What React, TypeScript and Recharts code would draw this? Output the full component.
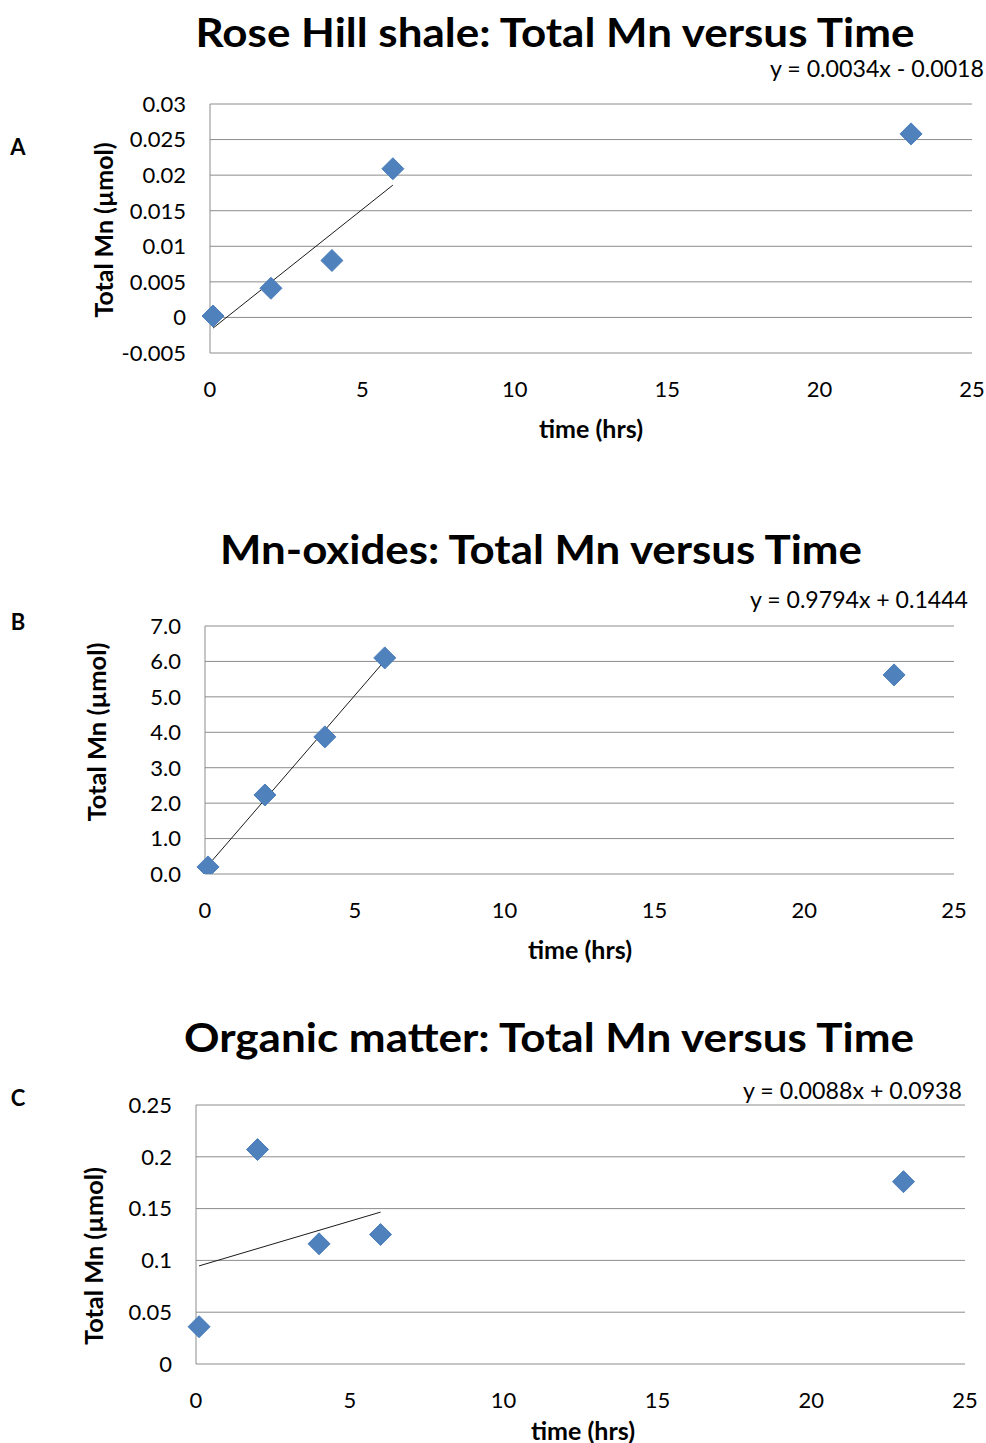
import { ScatterChart, Scatter, XAxis, YAxis, CartesianGrid } from 'recharts'

// sampling times (hrs), shared by all three panels
const timeHrs = [0.1, 2, 4, 6, 23]

// Total Mn (µmol)
const mnRoseHill = [0.0002, 0.0041, 0.008, 0.0209, 0.0258]
const mnOxides = [0.2, 2.23, 3.87, 6.1, 5.62]
const mnOrganic = [0.036, 0.207, 0.116, 0.125, 0.176]

// linear trendlines (first four points only), start and end
const trendX = [0.1, 6]
const trendRoseHill = [-0.0015, 0.0186]
const trendOxides = [0.242, 6.02]
const trendOrganic = [0.0947, 0.1466]

const xTicks = [0, 5, 10, 15, 20, 25]
const yTicksA = [-0.005, 0, 0.005, 0.01, 0.015, 0.02, 0.025, 0.03]
const yTicksB = [0, 1, 2, 3, 4, 5, 6, 7]
const yTicksC = [0, 0.05, 0.1, 0.15, 0.2, 0.25]

const titles = [
  'Rose Hill shale: Total Mn versus Time',
  'Mn-oxides: Total Mn versus Time',
  'Organic matter: Total Mn versus Time',
]
const equations = ['y = 0.0034x - 0.0018', 'y = 0.9794x + 0.1444', 'y = 0.0088x + 0.0938']
const letters = ['A', 'B', 'C']

const FONT = 'Lato, "Open Sans", sans-serif'
const GRID = '#8c8c8c'

const toPoints = (xs: number[], ys: number[]) => xs.map((x, i) => ({ x, y: ys[i] }))

const Diamond = (props: any) => {
  const { cx, cy } = props
  const r = 11
  if (cx == null || cy == null) return <g />
  return (
    <path
      d={`M${cx},${cy - r}L${cx + r},${cy}L${cx},${cy + r}L${cx - r},${cy}Z`}
      fill="#4F81BD"
      stroke="#4A7EBB"
      strokeWidth={1}
    />
  )
}

const Nothing = () => <g />

interface PanelProps {
  top: number
  plot: { left: number; right: number; top: number; bottom: number }
  values: number[]
  trend: number[]
  yDomain: [number, number]
  yTicks: number[]
  fmt: (v: number) => string
}

function Panel({ top, plot, values, trend, yDomain, yTicks, fmt }: PanelProps) {
  const yAxisWidth = 90
  const xAxisHeight = 40
  const height = plot.bottom - top + 60
  return (
    <div style={{ position: 'absolute', left: 0, top, width: 986, height }}>
      <ScatterChart
        width={986}
        height={height}
        margin={{
          top: plot.top - top,
          right: 986 - plot.right,
          bottom: height - (plot.bottom - top) - xAxisHeight,
          left: plot.left - yAxisWidth,
        }}
      >
        <CartesianGrid vertical={false} stroke={GRID} strokeWidth={1} />
        <XAxis
          type="number"
          dataKey="x"
          domain={[0, 25]}
          ticks={xTicks}
          height={xAxisHeight}
          axisLine={false}
          tickLine={false}
          tickMargin={22}
          tick={{ fill: '#000', fontSize: 22, fontFamily: FONT }}
        />
        <YAxis
          type="number"
          dataKey="y"
          domain={yDomain}
          ticks={yTicks}
          width={yAxisWidth}
          allowDataOverflow
          tickFormatter={fmt}
          axisLine={{ stroke: GRID }}
          tickLine={false}
          tickMargin={18}
          tick={{ fill: '#000', fontSize: 22, fontFamily: FONT }}
        />
        <Scatter
          data={toPoints(trendX, trend)}
          line={{ stroke: '#1a1a1a', strokeWidth: 1 }}
          shape={Nothing}
          isAnimationActive={false}
        />
        <Scatter data={toPoints(timeHrs, values)} shape={Diamond} isAnimationActive={false} />
      </ScatterChart>
    </div>
  )
}

// text positions and widths in page pixels
const titleX = [555, 541, 549]
const titleY = [31, 548, 1036]
const titleW = [719, 642, 730]
const eqX = [984, 968, 962]
const eqY = [68, 599, 1090]
const eqW = [214, 218, 219]
const letterY = [146, 621, 1097]
const xLabelX = [591, 580, 583]
const xLabelY = [428, 949, 1430]
const yLabelX = [103, 96, 93]
const yLabelY = [230, 732, 1256]
const yLabelW = [175, 179, 178]

export default function App() {
  return (
    <div style={{ position: 'absolute', left: 0, top: 0, width: 986, height: 1443, background: '#fff', fontFamily: FONT }}>
      <Panel
        top={0}
        plot={{ left: 210, right: 972, top: 104, bottom: 353 }}
        values={mnRoseHill}
        trend={trendRoseHill}
        yDomain={[-0.005, 0.03]}
        yTicks={yTicksA}
        fmt={(v) => String(v)}
      />
      <Panel
        top={480}
        plot={{ left: 205, right: 954, top: 626, bottom: 874 }}
        values={mnOxides}
        trend={trendOxides}
        yDomain={[0, 7]}
        yTicks={yTicksB}
        fmt={(v) => v.toFixed(1)}
      />
      <Panel
        top={960}
        plot={{ left: 196, right: 965, top: 1105, bottom: 1364 }}
        values={mnOrganic}
        trend={trendOrganic}
        yDomain={[0, 0.25]}
        yTicks={yTicksC}
        fmt={(v) => String(v)}
      />
      <svg
        width={986}
        height={1443}
        style={{ position: 'absolute', left: 0, top: 0, pointerEvents: 'none' }}
        fontFamily={FONT}
      >
        {titles.map((t, i) => (
          <text
            key={t}
            x={titleX[i]}
            y={titleY[i]}
            textAnchor="middle"
            dominantBaseline="central"
            fontSize={41}
            fontWeight={700}
            fill="#000"
            textLength={titleW[i]}
            lengthAdjust="spacingAndGlyphs"
          >
            {t}
          </text>
        ))}
        {equations.map((t, i) => (
          <text
            key={t}
            x={eqX[i]}
            y={eqY[i]}
            textAnchor="end"
            dominantBaseline="central"
            fontSize={23}
            fill="#000"
            textLength={eqW[i]}
            lengthAdjust="spacingAndGlyphs"
          >
            {t}
          </text>
        ))}
        {letters.map((t, i) => (
          <text key={t} x={18} y={letterY[i]} textAnchor="middle" dominantBaseline="central" fontSize={22} fontWeight={700} fill="#000">
            {t}
          </text>
        ))}
        {xLabelX.map((x, i) => (
          <text
            key={'xl' + i}
            x={x}
            y={xLabelY[i]}
            textAnchor="middle"
            dominantBaseline="central"
            fontSize={24}
            fontWeight={700}
            fill="#000"
            textLength={104}
            lengthAdjust="spacingAndGlyphs"
          >
            time (hrs)
          </text>
        ))}
        {yLabelX.map((x, i) => (
          <text
            key={'yl' + i}
            x={x}
            y={yLabelY[i]}
            textAnchor="middle"
            dominantBaseline="central"
            fontSize={24}
            fontWeight={700}
            fill="#000"
            textLength={yLabelW[i]}
            lengthAdjust="spacingAndGlyphs"
            transform={`rotate(-90 ${x} ${yLabelY[i]})`}
          >
            Total Mn (µmol)
          </text>
        ))}
      </svg>
    </div>
  )
}
